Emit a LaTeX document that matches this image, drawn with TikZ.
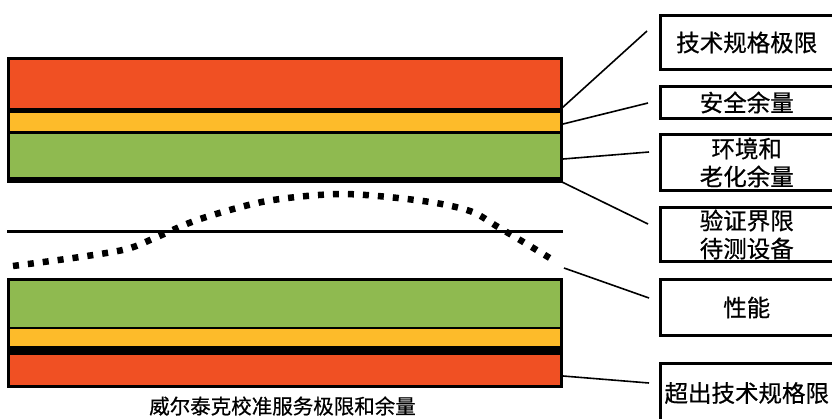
\documentclass[tikz,border=0pt]{standalone}
\usepackage{fontspec}
\newfontfamily\cjk[FakeBold=0.6]{Noto Sans CJK SC}
\definecolor{specred}{HTML}{F05023}
\definecolor{safeorange}{HTML}{FDBB2A}
\definecolor{agegreen}{HTML}{8FBA50}

\begin{document}
\begin{tikzpicture}[x=1pt,y=-1pt]
    \tikzstyle{labelbox}=[draw, line width=3pt, minimum width=172.5pt, inner sep=0pt,
                          align=center, font=\cjk\fontsize{23.5}{28}\selectfont]
    \tikzstyle{leader}=[line width=1.6pt]
    \tikzstyle{perf}=[line width=6.5pt, dash pattern=on 6pt off 9pt]
    \useasboundingbox (0,0) rectangle (832,418);

    % upper band
    \fill (7,57) rectangle (563,183);
    \fill[specred] (10,60) rectangle (560,108);
    \fill[safeorange] (10,113) rectangle (560,131);
    \fill[agegreen] (10,134) rectangle (560,177);

    \draw[line width=3pt] (7,231) -- (563,231);

    % lower band
    \fill (7,278) rectangle (563,388);
    \fill[agegreen] (10,281) rectangle (560,327);
    \fill[safeorange] (10,329) rectangle (560,346);
    \fill[specred] (10,355) rectangle (560,385);

    \draw[perf] plot[smooth] coordinates {(13,266) (80,257) (127,249) (157,237) (200,219)
        (267,201) (343,194) (423,201) (470,211) (498,227) (525,243) (553,260)};

    \node[font=\cjk\fontsize{20.5}{24}\selectfont] (caption) at (282.5,406) {威尔泰克校准服务极限和余量};

    \node[labelbox, minimum height=54pt] (spec) at (746.75,42.5) {技术规格极限};
    \node[labelbox, minimum height=32pt] (safe) at (746.75,102.5) {安全余量};
    \node[labelbox, minimum height=56pt] (age) at (746.75,162.5) {环境和\\老化余量};
    \node[labelbox, minimum height=54pt] (dut) at (746.75,234.5) {验证界限\\待测设备};
    \node[labelbox, minimum height=56pt] (perfbox) at (746.75,307.5) {性能};
    \node[labelbox, minimum height=60pt] (out) at (746.75,393) {超出技术规格限};

    \coordinate (spec a) at (562,108);  \coordinate (spec b) at (647,31);
    \coordinate (safe a) at (563,124);  \coordinate (safe b) at (648,103);
    \coordinate (age a) at (563,159);   \coordinate (age b) at (649,152);
    \coordinate (dut a) at (562,182);   \coordinate (dut b) at (648,224);
    \coordinate (perf a) at (564,268);  \coordinate (perf b) at (649,298);
    \coordinate (out a) at (563,376);   \coordinate (out b) at (649,383);

    \draw[leader] (spec a) -- (spec b);
    \draw[leader] (safe a) -- (safe b);
    \draw[leader] (age a) -- (age b);
    \draw[leader] (dut a) -- (dut b);
    \draw[leader] (perf a) -- (perf b);
    \draw[leader] (out a) -- (out b);
\end{tikzpicture}
\end{document}
